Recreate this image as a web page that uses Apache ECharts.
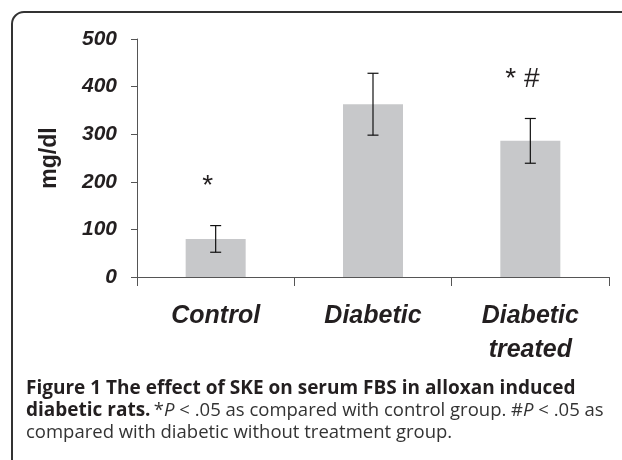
<!DOCTYPE html>
<html>
<head>
<meta charset="utf-8">
<script src="https://cdn.jsdelivr.net/npm/echarts@6/dist/echarts.min.js"></script>
<style>
  html, body { margin: 0; padding: 0; background: #fff; }
  #chart { width: 622px; height: 460px; }
</style>
</head>
<body>
<div id="chart"></div>
<script>
const categories = ['Control', 'Diabetic', 'Diabetic\ntreated']
const means = [80, 363, 286]
const errors = [28, 65, 47]
const sigMarks = ['*', '', '* #']
const yTicks = [0, 100, 200, 300, 400, 500]

const chart = echarts.init(document.getElementById('chart'))

const labelFont = 'Liberation Sans, Arial, Helvetica, sans-serif'
const captionFont = 'Open Sans, Noto Sans, sans-serif'
const inkColor = '#231f20'

const errorData = means.map((m, i) => [i, m - errors[i], m + errors[i]])

const renderError = (params, api) => {
  const i = api.value(0)
  const low = api.coord([i, api.value(1)])
  const high = api.coord([i, api.value(2)])
  const cap = 5.5
  const lineStyle = { stroke: '#111', lineWidth: 1.2 }
  const children = [
    { type: 'line', shape: { x1: high[0], y1: high[1], x2: low[0], y2: low[1] }, style: lineStyle },
    { type: 'line', shape: { x1: high[0] - cap, y1: high[1], x2: high[0] + cap, y2: high[1] }, style: lineStyle },
    { type: 'line', shape: { x1: low[0] - cap, y1: low[1], x2: low[0] + cap, y2: low[1] }, style: lineStyle }
  ]
  const mark = sigMarks[params.dataIndex]
  if (mark) {
    children.push({
      type: 'text',
      x: high[0] - 8,
      y: high[1] - 39,
      style: {
        text: mark,
        fontFamily: labelFont,
        fontSize: 28,
        fill: inkColor,
        align: 'center',
        verticalAlign: 'middle'
      }
    })
  }
  return { type: 'group', children }
}

chart.setOption({
  animation: false,
  grid: { left: 137, right: 13, top: 39, bottom: 183 },
  xAxis: {
    type: 'category',
    data: categories,
    axisLine: { show: true, lineStyle: { color: '#555', width: 1 } },
    axisTick: { show: true, alignWithLabel: false, length: 9, lineStyle: { color: '#555' } },
    axisLabel: {
      margin: 22,
      fontFamily: labelFont,
      fontSize: 25,
      fontWeight: 'bold',
      fontStyle: 'italic',
      lineHeight: 34,
      color: inkColor
    }
  },
  yAxis: {
    type: 'value',
    min: yTicks[0],
    max: yTicks[yTicks.length - 1],
    interval: 100,
    name: 'mg/dl',
    nameLocation: 'middle',
    nameGap: 76,
    nameRotate: 90,
    nameTextStyle: {
      fontFamily: labelFont,
      fontSize: 23,
      fontWeight: 'bold',
      color: inkColor
    },
    axisLine: { show: true, lineStyle: { color: '#555', width: 1 } },
    axisTick: { show: true, length: 6, lineStyle: { color: '#555' } },
    splitLine: { show: false },
    axisLabel: {
      margin: 20,
      fontFamily: labelFont,
      fontSize: 21,
      fontWeight: 'bold',
      fontStyle: 'italic',
      color: inkColor
    }
  },
  series: [
    {
      type: 'bar',
      data: means,
      barWidth: 60,
      itemStyle: { color: '#c7c8ca' }
    },
    {
      type: 'custom',
      data: errorData,
      renderItem: renderError,
      z: 5
    }
  ],
  graphic: [
    {
      type: 'rect',
      shape: { x: 12, y: 12, width: 700, height: 480, r: 12 },
      style: { fill: 'none', stroke: '#333', lineWidth: 2 },
      silent: true
    },
    {
      type: 'text',
      x: 26,
      y: 389,
      style: {
        text: 'Figure 1 The effect of SKE on serum FBS in alloxan induced',
        fontFamily: captionFont,
        fontSize: 19,
        fontWeight: 'bold',
        fill: inkColor,
        verticalAlign: 'middle'
      }
    },
    {
      type: 'text',
      x: 26,
      y: 411,
      style: {
        text: '{b|diabetic rats.} {r|*}{i|P}{r| < .05 as compared with control group. #}{i|P}{r| < .05 as}',
        verticalAlign: 'middle',
        rich: {
          b: { fontFamily: captionFont, fontSize: 19, fontWeight: 'bold', fill: inkColor },
          r: { fontFamily: captionFont, fontSize: 18.5, fill: '#333' },
          i: { fontFamily: captionFont, fontSize: 18.5, fontStyle: 'italic', fill: '#333' }
        }
      }
    },
    {
      type: 'text',
      x: 26,
      y: 433,
      style: {
        text: 'compared with diabetic without treatment group.',
        fontFamily: captionFont,
        fontSize: 18.5,
        fill: '#333',
        verticalAlign: 'middle'
      }
    }
  ]
})
</script>
</body>
</html>
